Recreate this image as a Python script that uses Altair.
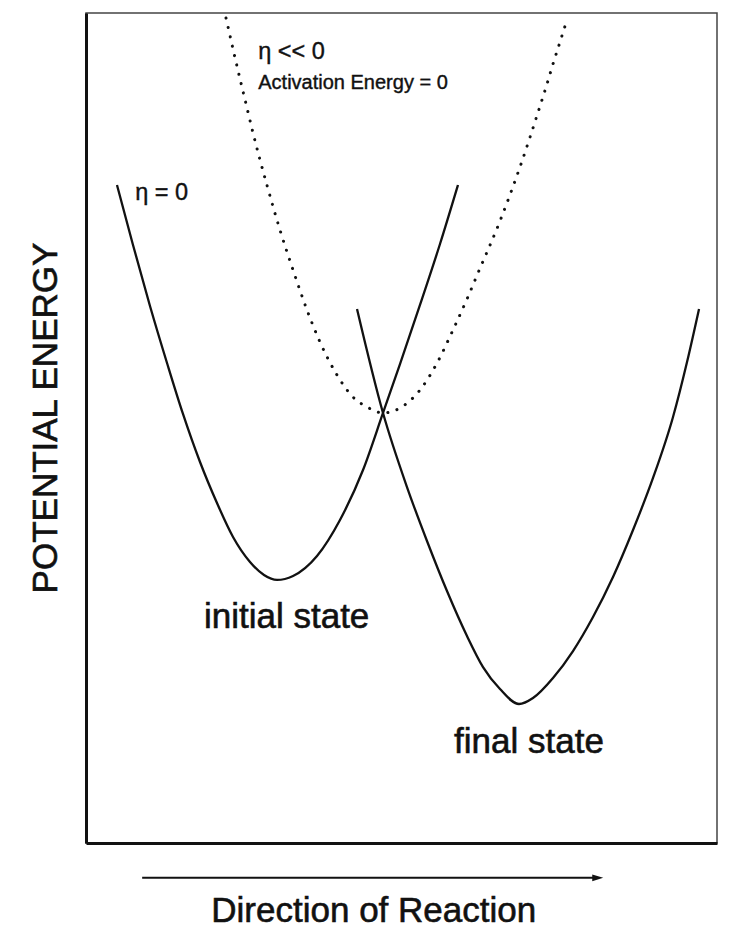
import altair as alt
import pandas as pd

# Reaction coordinate (0-100) and potential energy (0-100)
init_x = [4.91, 7.45, 10.14, 12.84, 15.37, 18.07, 20.76, 23.30, 25.99, 28.21, 30.27,
          32.81, 36.61, 40.25, 43.90, 47.07, 49.76, 52.93, 56.10, 58.95]
init_y = [79.28, 72.05, 64.70, 57.83, 51.69, 45.90, 40.96, 36.87, 33.86, 32.29, 31.69,
          32.17, 34.58, 38.92, 44.94, 51.81, 57.71, 64.82, 72.17, 79.28]

final_x = [42.95, 47.07, 50.87, 54.04, 57.21, 60.38, 62.92, 65.61, 68.62, 70.84, 74.01,
           77.18, 80.35, 83.52, 86.69, 89.86, 93.03, 95.25, 97.15]
final_y = [64.34, 51.81, 42.89, 36.39, 30.36, 24.94, 21.20, 18.55, 16.75, 17.47, 19.88,
           23.13, 27.23, 32.05, 37.71, 43.98, 51.33, 57.95, 64.34]

dotted_x = [22.19, 23.30, 24.41, 25.52, 26.47, 27.58, 28.68, 30.74, 32.81, 35.02, 37.08,
            39.78, 42.31, 44.53, 47.07, 49.76, 52.93, 55.63, 58.16, 60.38, 62.12, 65.61,
            68.78, 72.11, 73.06, 74.01, 75.12, 76.07]
dotted_y = [99.40, 95.66, 92.05, 88.55, 85.54, 82.29, 79.25, 73.86, 69.04, 64.22, 60.36,
            56.39, 53.73, 52.53, 51.81, 52.41, 54.58, 57.83, 61.81, 65.54, 68.67, 74.94,
            81.45, 89.16, 91.45, 93.86, 96.51, 98.80]

small_labels = ["\u03b7 = 0", "\u03b7 << 0", "Activation Energy = 0"]
small_x = [7.8, 27.3, 27.3]
small_y = [78.3, 95.3, 91.6]
small_size = [23.5, 23.5, 20]

big_labels = ["initial state", "final state"]
big_x = [31.8, 70.2]
big_y = [27.2, 12.2]

x_title = "Direction of Reaction"
x_title_pos = [45.6, -9.5]
y_title = "POTENTIAL ENERGY"
y_title_pos = [-6.34, 51.2]

arrow_x = [8.9, 80.4]
arrow_y = [-4.2, -4.2]
arrow_head_x = [81.1]
arrow_head_y = [-4.2]

FONT = "Liberation Sans"
INK = "#111"

xs = alt.Scale(domain=[0, 100], nice=False, zero=False)
ys = alt.Scale(domain=[0, 100], nice=False, zero=False)
ax = alt.Axis(title=None, domain=True, domainColor=INK, domainWidth=3,
              ticks=False, labels=False, grid=False)

curves = pd.DataFrame(
    {"x": init_x + final_x + dotted_x,
     "y": init_y + final_y + dotted_y,
     "curve": ["initial"] * len(init_x) + ["final"] * len(final_x) + ["dotted"] * len(dotted_x),
     "order": list(range(len(init_x))) + list(range(len(final_x))) + list(range(len(dotted_x)))}
)

X = alt.X("x:Q", scale=xs, axis=ax)
Y = alt.Y("y:Q", scale=ys, axis=ax)

solid = alt.Chart(curves[curves.curve != "dotted"]).mark_line(
    color=INK, strokeWidth=2.3, interpolate="monotone"
).encode(x=X, y=Y, detail="curve:N", order="order:Q")

dotted = alt.Chart(curves[curves.curve == "dotted"]).mark_line(
    color=INK, strokeWidth=3, strokeDash=[0.1, 9.5], strokeCap="round", interpolate="monotone"
).encode(x=X, y=Y, order="order:Q")

small = alt.Chart(pd.DataFrame({"x": small_x, "y": small_y, "t": small_labels, "s": small_size})).mark_text(
    font=FONT, align="left", baseline="middle", color=INK, stroke=INK, strokeWidth=0.4
).encode(x=X, y=Y, text="t:N", size=alt.Size("s:Q", scale=None, legend=None))

big = alt.Chart(pd.DataFrame({"x": big_x, "y": big_y, "t": big_labels})).mark_text(
    font=FONT, fontSize=35, align="center", baseline="middle", color=INK, stroke=INK, strokeWidth=0.6
).encode(x=X, y=Y, text="t:N")

xt = alt.Chart(pd.DataFrame({"x": [x_title_pos[0]], "y": [x_title_pos[1]], "t": [x_title]})).mark_text(
    font=FONT, fontSize=35, align="center", baseline="alphabetic", color=INK, stroke=INK, strokeWidth=0.6
).encode(x=X, y=Y, text="t:N")

yt = alt.Chart(pd.DataFrame({"x": [y_title_pos[0]], "y": [y_title_pos[1]], "t": [y_title]})).mark_text(
    font=FONT, fontSize=35, angle=270, align="center", baseline="middle", color=INK, stroke=INK, strokeWidth=0.6
).encode(x=X, y=Y, text="t:N")

arrow = alt.Chart(pd.DataFrame({"x": arrow_x, "y": arrow_y})).mark_line(
    color=INK, strokeWidth=2
).encode(x=X, y=Y)

head = alt.Chart(pd.DataFrame({"x": arrow_head_x, "y": arrow_head_y})).mark_point(
    shape="M-1,-0.6L1,0L-1,0.6Z", size=121, filled=True, color=INK, opacity=1
).encode(x=X, y=Y)

chart = alt.layer(solid, dotted, small, big, xt, yt, arrow, head).properties(
    width=631, height=830,
    autosize=alt.AutoSizeParams(type="none"),
    padding={"left": 78, "top": 5, "right": 17, "bottom": 87},
    background="white",
).configure_view(stroke="#444", strokeWidth=1.5)

chart.save("out.html", embed_options={"renderer": "svg", "actions": False})
